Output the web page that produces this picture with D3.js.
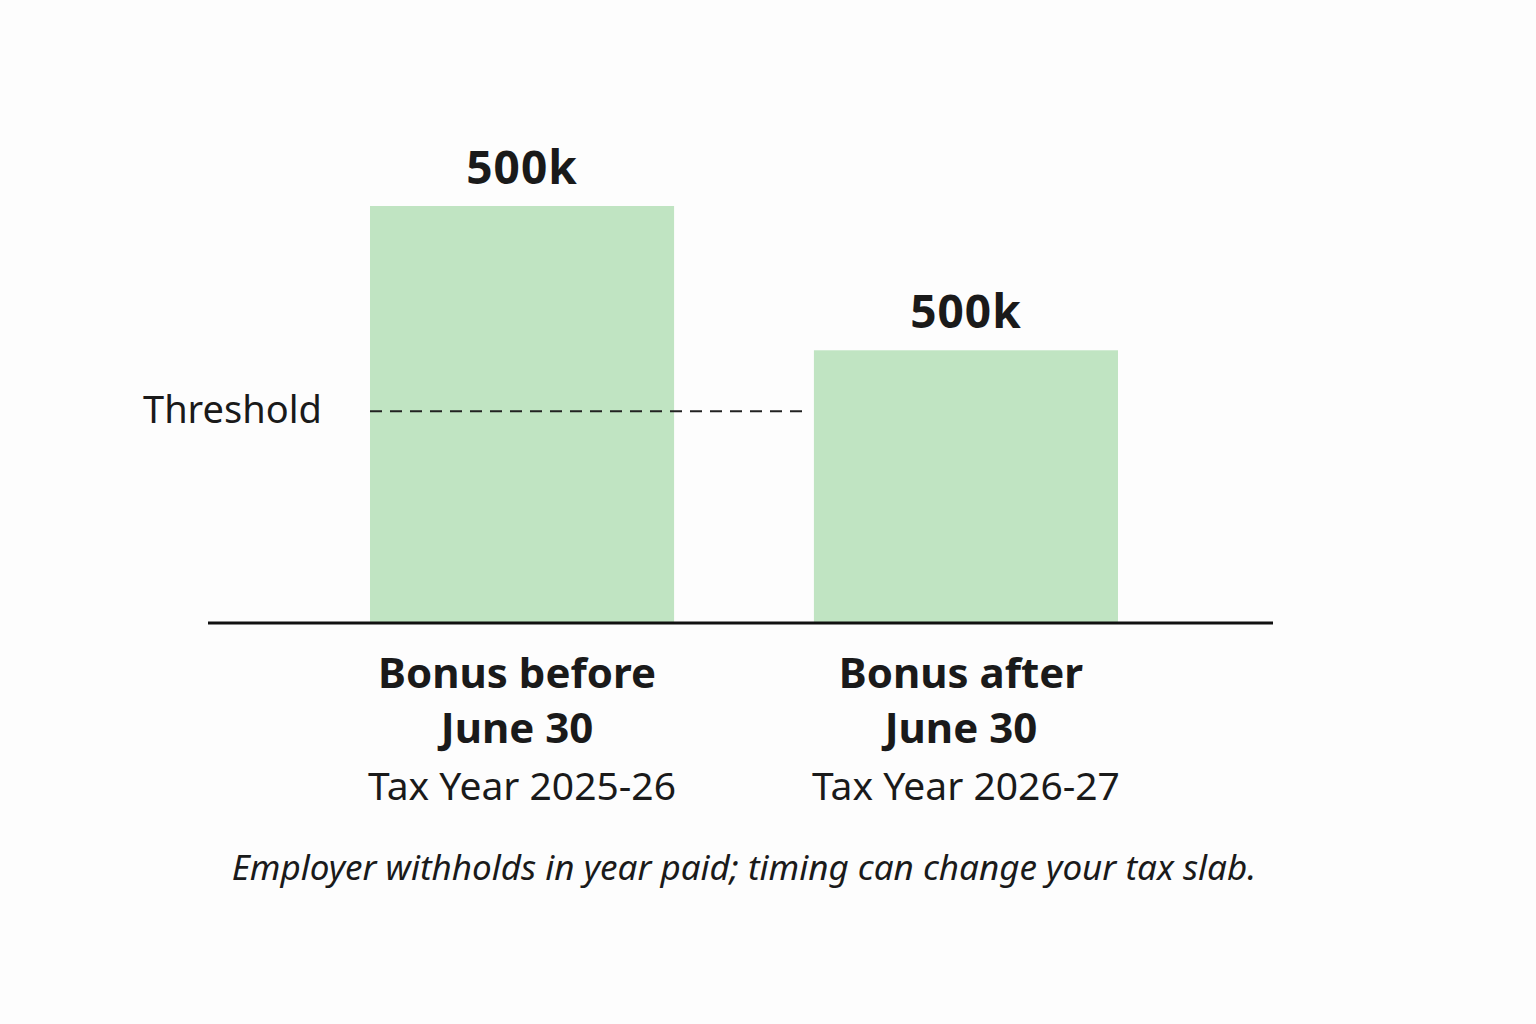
<!DOCTYPE html>
<html>
<head>
<meta charset="utf-8">
<script src="https://cdn.jsdelivr.net/npm/d3@7"></script>
<style>
  body { margin: 0; background: #fdfdfd; }
  svg { display: block; font-family: "Noto Sans", "Open Sans", sans-serif; }
</style>
</head>
<body>
<svg id="chart" width="1536" height="1024"></svg>
<script>
// data (bar heights are relative, labels as printed)
var categories = ["Bonus before|June 30", "Bonus after|June 30"];
var taxYears = ["Tax Year 2025-26", "Tax Year 2026-27"];
var barValues = [500, 327];
var valueLabels = ["500k", "500k"];
var thresholdValue = 254;
var note = "Employer withholds in year paid; timing can change your tax slab.";

var svg = d3.select("#chart");
var baseY = 623;

var x = d3.scaleBand()
    .domain(categories)
    .range([370, 1118])
    .paddingInner(0.315)
    .paddingOuter(0);

var y = d3.scaleLinear()
    .domain([0, 500])
    .range([baseY, 206]);

// bars
svg.selectAll("rect.bar")
    .data(barValues)
    .enter()
    .append("rect")
    .attr("class", "bar")
    .attr("x", function (d, i) { return x(categories[i]); })
    .attr("y", function (d) { return y(d); })
    .attr("width", x.bandwidth())
    .attr("height", function (d) { return baseY - y(d); })
    .attr("fill", "#c0e4c2");

// value labels
svg.selectAll("text.val")
    .data(barValues)
    .enter()
    .append("text")
    .attr("class", "val")
    .text(function (d, i) { return valueLabels[i]; })
    .attr("text-anchor", "middle")
    .attr("x", function (d, i) { return x(categories[i]) + x.bandwidth() / 2; })
    .attr("y", function (d) { return y(d) - 22; })
    .attr("font-size", "46px")
    .attr("font-weight", "bold")
    .attr("letter-spacing", "1px")
    .attr("fill", "#1a1a1a");

// threshold
svg.append("line")
    .attr("x1", 370)
    .attr("x2", 805)
    .attr("y1", y(thresholdValue))
    .attr("y2", y(thresholdValue))
    .attr("stroke", "#222")
    .attr("stroke-width", 2)
    .style("stroke-dasharray", "12, 8");

svg.append("text")
    .text("Threshold")
    .attr("x", 143)
    .attr("y", y(thresholdValue) + 12)
    .attr("font-size", "38px")
    .attr("fill", "#1a1a1a");

// baseline
svg.append("line")
    .attr("x1", 208)
    .attr("x2", 1273)
    .attr("y1", baseY)
    .attr("y2", baseY)
    .attr("stroke", "#111")
    .attr("stroke-width", 3);

// category labels
categories.forEach(function (c, i) {
    var cx = x(c) + x.bandwidth() / 2;
    var lines = c.split("|");
    lines.forEach(function (l, j) {
        svg.append("text")
            .text(l)
            .attr("text-anchor", "middle")
            .attr("x", cx - 5)
            .attr("y", 688 + j * 55)
            .attr("font-size", "42px")
            .attr("font-weight", "bold")
            .attr("fill", "#1a1a1a");
    });
    svg.append("text")
        .text(taxYears[i])
        .attr("text-anchor", "middle")
        .attr("x", cx)
        .attr("y", 800)
        .attr("font-size", "39px")
        .attr("fill", "#1a1a1a");
});

// footnote
svg.append("text")
    .text(note)
    .attr("text-anchor", "middle")
    .attr("x", 744)
    .attr("y", 880)
    .attr("font-size", "35px")
    .attr("font-style", "italic")
    .attr("fill", "#1a1a1a");
</script>
</body>
</html>
